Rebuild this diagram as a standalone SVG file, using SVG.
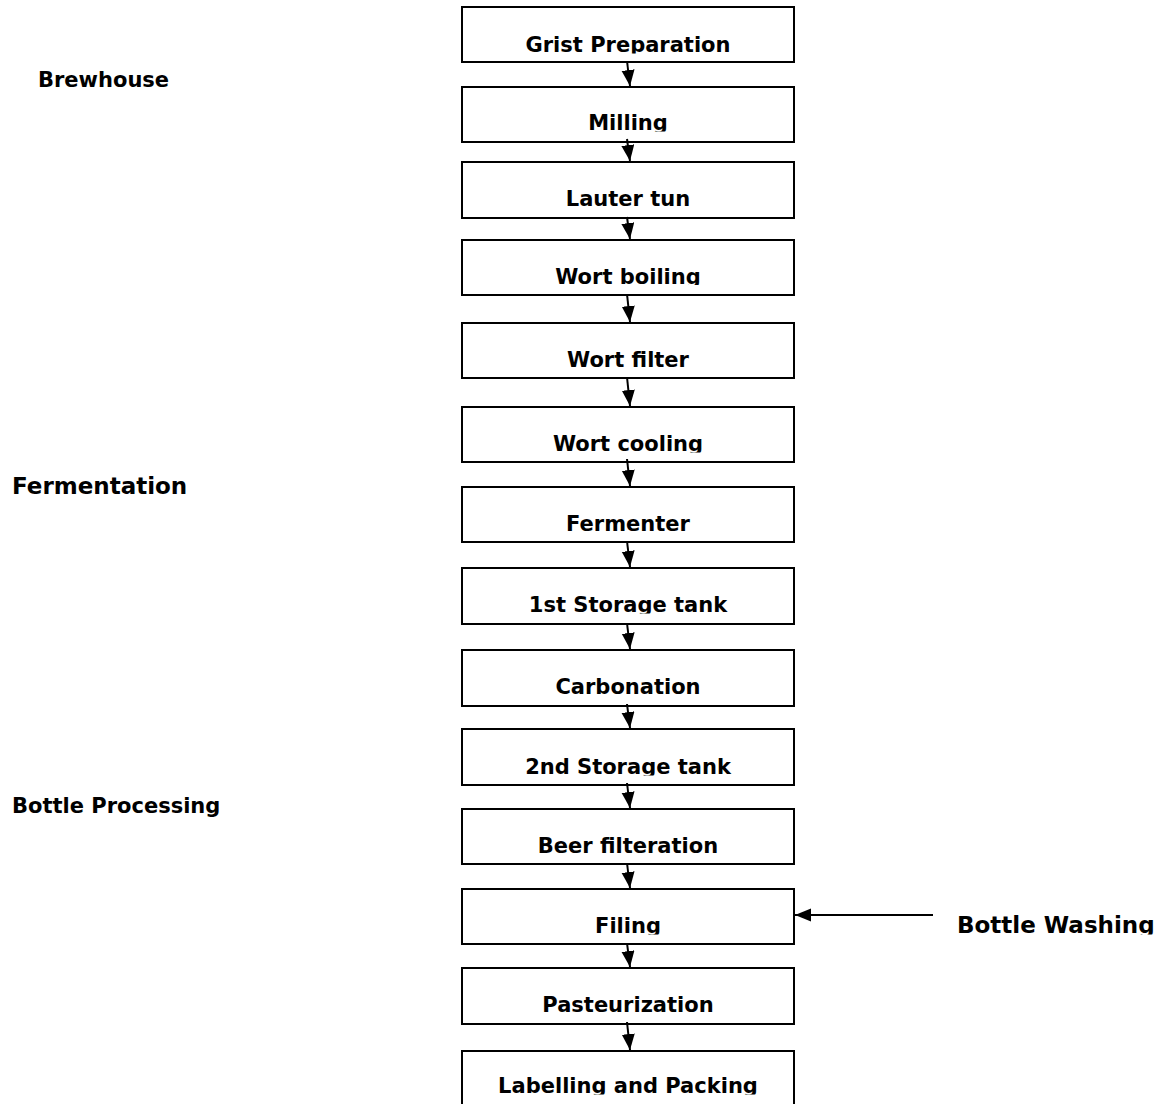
<svg xmlns="http://www.w3.org/2000/svg" width="1167" height="1104" viewBox="0 0 1167 1104">
<style>
.box{fill:#fff;stroke:#000;stroke-width:2}
.lbl{font-family:"DejaVu Sans",Verdana,sans-serif;font-weight:bold;font-size:21px;fill:#000;text-anchor:middle}
.side{font-family:"DejaVu Sans",Verdana,sans-serif;font-weight:bold;font-size:21px;fill:#000}
.big{font-size:23px}
.con{stroke:#000;stroke-width:2;fill:none;marker-end:url(#ah)}
</style>
<defs>
<marker id="ah" markerUnits="userSpaceOnUse" markerWidth="18" markerHeight="16" refX="16" refY="6.5" orient="auto">
<path d="M0,0 L16,6.5 L0,13 Z" fill="#000"/>
</marker>
<clipPath id="c1"><rect x="462" y="7" width="332" height="46.5"/></clipPath>
<clipPath id="c2"><rect x="462" y="87" width="332" height="44.5"/></clipPath>
<clipPath id="c3"><rect x="462" y="162" width="332" height="45.5"/></clipPath>
<clipPath id="c4"><rect x="462" y="240" width="332" height="45"/></clipPath>
<clipPath id="c5"><rect x="462" y="323" width="332" height="45.5"/></clipPath>
<clipPath id="c6"><rect x="462" y="407" width="332" height="45.5"/></clipPath>
<clipPath id="c7"><rect x="462" y="487" width="332" height="45.5"/></clipPath>
<clipPath id="c8"><rect x="462" y="568" width="332" height="45.5"/></clipPath>
<clipPath id="c9"><rect x="462" y="650" width="332" height="45.5"/></clipPath>
<clipPath id="c10"><rect x="462" y="729" width="332" height="46.5"/></clipPath>
<clipPath id="c11"><rect x="462" y="809" width="332" height="45.5"/></clipPath>
<clipPath id="c12"><rect x="462" y="889" width="332" height="45.5"/></clipPath>
<clipPath id="c13"><rect x="462" y="968" width="332" height="45.5"/></clipPath>
<clipPath id="c14"><rect x="462" y="1051" width="332" height="43.5"/></clipPath>
<clipPath id="cbw"><rect x="940" y="895" width="227" height="39.5"/></clipPath>
</defs>
<rect width="1167" height="1104" fill="#fff"/>

<g id="label-brewhouse"><text class="side" x="38" y="87">Brewhouse</text></g>
<g id="label-fermentation"><text class="side big" x="12" y="494">Fermentation</text></g>
<g id="label-bottle-processing"><text class="side" x="12" y="813">Bottle Processing</text></g>

<g id="n1"><rect class="box" x="462" y="7" width="332" height="55"/><text class="lbl" x="628" y="52" clip-path="url(#c1)">Grist Preparation</text></g>
<g id="n2"><rect class="box" x="462" y="87" width="332" height="55"/><text class="lbl" x="628" y="130" clip-path="url(#c2)">Milling</text></g>
<g id="n3"><rect class="box" x="462" y="162" width="332" height="56"/><text class="lbl" x="628" y="206" clip-path="url(#c3)">Lauter tun</text></g>
<g id="n4"><rect class="box" x="462" y="240" width="332" height="55"/><text class="lbl" x="628" y="284" clip-path="url(#c4)">Wort boiling</text></g>
<g id="n5"><rect class="box" x="462" y="323" width="332" height="55"/><text class="lbl" x="628" y="367" clip-path="url(#c5)">Wort filter</text></g>
<g id="n6"><rect class="box" x="462" y="407" width="332" height="55"/><text class="lbl" x="628" y="451" clip-path="url(#c6)">Wort cooling</text></g>
<g id="n7"><rect class="box" x="462" y="487" width="332" height="55"/><text class="lbl" x="628" y="531" clip-path="url(#c7)">Fermenter</text></g>
<g id="n8"><rect class="box" x="462" y="568" width="332" height="56"/><text class="lbl" x="628" y="612" clip-path="url(#c8)">1st Storage tank</text></g>
<g id="n9"><rect class="box" x="462" y="650" width="332" height="56"/><text class="lbl" x="628" y="694" clip-path="url(#c9)">Carbonation</text></g>
<g id="n10"><rect class="box" x="462" y="729" width="332" height="56"/><text class="lbl" x="628" y="774" clip-path="url(#c10)">2nd Storage tank</text></g>
<g id="n11"><rect class="box" x="462" y="809" width="332" height="55"/><text class="lbl" x="628" y="853" clip-path="url(#c11)">Beer filteration</text></g>
<g id="n12"><rect class="box" x="462" y="889" width="332" height="55"/><text class="lbl" x="628" y="933" clip-path="url(#c12)">Filing</text></g>
<g id="n13"><rect class="box" x="462" y="968" width="332" height="56"/><text class="lbl" x="628" y="1012" clip-path="url(#c13)">Pasteurization</text></g>
<g id="n14"><rect class="box" x="462" y="1051" width="332" height="60"/><text class="lbl" x="628" y="1093" clip-path="url(#c14)">Labelling and Packing</text></g>
<g id="n-bottle-washing"><text class="side big" x="957" y="933" clip-path="url(#cbw)">Bottle Washing</text></g>

<g id="connectors">
<line class="con" x1="627" y1="61" x2="630" y2="86"/>
<line class="con" x1="627" y1="139" x2="630" y2="161"/>
<line class="con" x1="627" y1="217" x2="630" y2="239"/>
<line class="con" x1="627" y1="294" x2="630" y2="322"/>
<line class="con" x1="627" y1="377" x2="630" y2="406"/>
<line class="con" x1="627" y1="459" x2="630" y2="486"/>
<line class="con" x1="627" y1="541" x2="630" y2="567"/>
<line class="con" x1="627" y1="623" x2="630" y2="649"/>
<line class="con" x1="627" y1="704" x2="630" y2="728"/>
<line class="con" x1="627" y1="783" x2="630" y2="808"/>
<line class="con" x1="627" y1="863" x2="630" y2="888"/>
<line class="con" x1="627" y1="943" x2="630" y2="967"/>
<line class="con" x1="627" y1="1022" x2="630" y2="1050"/>
<line class="con" x1="933" y1="915" x2="795" y2="915"/>
</g>
</svg>
